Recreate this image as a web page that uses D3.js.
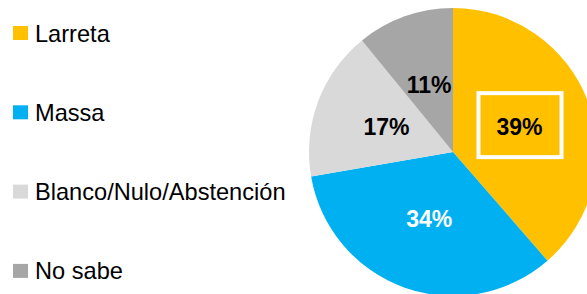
<!DOCTYPE html>
<html>
<head>
<meta charset="utf-8">
<script src="https://cdn.jsdelivr.net/npm/d3@7"></script>
<style>
  body { margin: 0; background: #fff; }
  text { font-family: "Liberation Sans", Arial, sans-serif; }
</style>
</head>
<body>
<div id="chart"></div>
<script>
// data
var categories = ["Larreta", "Massa", "Blanco/Nulo/Abstención", "No sabe"];
var values = [39, 34, 17, 11];
var labels = ["39%", "34%", "17%", "11%"];
var colors = ["#FFC000", "#00B0F0", "#D9D9D9", "#A6A6A6"];
var labelColors = ["#000", "#fff", "#000", "#000"];

var width = 587, height = 294;
var radius = 144;

var svg = d3.select("#chart")
  .append("svg")
    .attr("width", width)
    .attr("height", height);

var pie = d3.pie().sort(null).value(function(d) { return d; });
var arcs = pie(values);

var arc = d3.arc().innerRadius(0).outerRadius(radius);
var labelArc = d3.arc().innerRadius(71).outerRadius(71);

var g = svg.append("g")
  .attr("transform", "translate(453,152)");

g.selectAll(".slice")
  .data(arcs)
  .enter().append("path")
    .attr("class", "slice")
    .attr("d", arc)
    .style("fill", function(d, i) { return colors[i]; });

// white box round the first label
var c0 = labelArc.centroid(arcs[0]);
g.append("rect")
  .attr("x", c0[0] - 41)
  .attr("y", c0[1] - 34)
  .attr("width", 83)
  .attr("height", 64)
  .style("fill", "none")
  .style("stroke", "#fff")
  .style("stroke-width", 4);

g.selectAll(".lbl")
  .data(arcs)
  .enter().append("text")
    .attr("class", "lbl")
    .attr("transform", function(d) { return "translate(" + labelArc.centroid(d) + ")"; })
    .attr("text-anchor", "middle")
    .attr("dy", "0.36em")
    .style("font-size", "23px")
    .style("font-weight", "bold")
    .style("fill", function(d, i) { return labelColors[i]; })
    .text(function(d, i) { return labels[i]; });

// legend
var legend = svg.selectAll(".legend")
  .data(categories)
  .enter().append("g")
    .attr("class", "legend")
    .attr("transform", function(d, i) { return "translate(13," + (33 + i * 79.3) + ")"; });

legend.append("rect")
  .attr("x", 0)
  .attr("y", -7)
  .attr("width", 15)
  .attr("height", 14)
  .style("fill", function(d, i) { return colors[i]; });

legend.append("text")
  .attr("x", 22)
  .attr("y", 8.5)
  .style("font-size", "23.6px")
  .style("fill", "#000")
  .text(function(d) { return d; });
</script>
</body>
</html>
